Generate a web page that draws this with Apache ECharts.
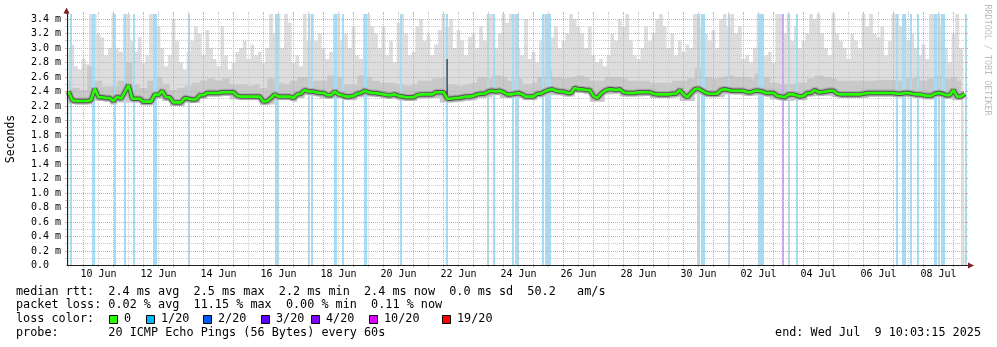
<!DOCTYPE html>
<html><head><meta charset="utf-8">
<script src="https://cdn.jsdelivr.net/npm/echarts@6/dist/echarts.min.js"></script>
<style>html,body{margin:0;padding:0;background:#fff}#c{width:997px;height:347px}</style>
</head><body><div id="c"></div>
<script>
// time unit: days since 10 Jun 00:00
const X_MIN = -0.55, X_MAX = 29.42;
const START = -0.5, STEP3H = 0.125, STEP6H = 0.25;

const medianRtt = [
2.40,2.28,2.27,2.27,2.27,2.27,2.28,2.44,2.32,2.32,
2.31,2.31,2.27,2.33,2.30,2.39,2.49,2.30,2.30,2.30,
2.26,2.26,2.26,2.36,2.35,2.41,2.32,2.32,2.25,2.25,
2.25,2.31,2.30,2.29,2.29,2.35,2.35,2.38,2.38,2.38,
2.38,2.39,2.39,2.39,2.39,2.34,2.33,2.33,2.33,2.33,
2.33,2.33,2.26,2.27,2.31,2.36,2.33,2.33,2.33,2.33,
2.31,2.36,2.37,2.42,2.40,2.40,2.39,2.38,2.38,2.35,
2.35,2.40,2.36,2.35,2.33,2.33,2.34,2.37,2.38,2.41,
2.39,2.38,2.38,2.37,2.36,2.35,2.35,2.36,2.34,2.33,
2.32,2.32,2.32,2.35,2.36,2.36,2.36,2.36,2.39,2.39,
2.39,2.30,2.30,2.31,2.31,2.32,2.33,2.33,2.34,2.36,
2.37,2.37,2.40,2.41,2.40,2.41,2.39,2.36,2.36,2.37,
2.38,2.36,2.33,2.33,2.33,2.37,2.37,2.40,2.42,2.43,
2.41,2.40,2.40,2.38,2.38,2.45,2.43,2.43,2.42,2.42,
2.34,2.31,2.37,2.41,2.43,2.43,2.42,2.43,2.39,2.38,
2.38,2.38,2.39,2.39,2.39,2.39,2.37,2.36,2.36,2.36,
2.36,2.37,2.37,2.42,2.36,2.32,2.38,2.43,2.44,2.41,
2.38,2.37,2.37,2.37,2.42,2.43,2.42,2.41,2.41,2.41,
2.41,2.39,2.39,2.41,2.41,2.40,2.38,2.38,2.38,2.34,
2.33,2.32,2.36,2.36,2.35,2.33,2.34,2.38,2.38,2.42,
2.39,2.39,2.40,2.41,2.41,2.37,2.36,2.36,2.36,2.36,
2.36,2.36,2.37,2.38,2.38,2.38,2.38,2.38,2.38,2.38,
2.38,2.37,2.37,2.38,2.38,2.37,2.36,2.36,2.35,2.34,
2.34,2.37,2.38,2.37,2.35,2.35,2.42,2.33,2.33,2.37];

const smokeMax = [
2.95,3.05,2.75,2.70,2.85,2.78,3.47,3.47,3.20,3.15,
2.90,3.00,3.47,3.00,2.95,3.47,3.47,3.10,2.95,3.15,
2.80,2.90,3.47,3.47,3.30,3.00,2.75,2.90,3.40,3.10,
2.80,2.70,2.95,3.10,3.30,3.20,2.90,3.25,3.00,2.85,
2.75,3.30,2.90,2.70,2.80,2.95,3.00,3.10,2.85,3.05,
2.90,2.95,2.80,3.00,3.47,3.20,3.47,3.00,3.47,3.35,
2.80,2.90,2.75,3.47,3.10,3.47,3.10,3.20,3.00,2.85,
2.95,3.47,3.47,3.10,3.20,3.00,3.30,2.90,2.85,3.47,
3.47,3.30,3.20,3.00,3.30,2.90,3.10,2.80,3.35,3.47,
3.20,2.90,2.95,3.30,3.40,3.10,3.20,2.90,3.05,3.25,
3.47,3.30,3.40,3.00,3.25,3.10,2.90,3.15,3.20,3.00,
3.30,3.10,3.47,3.47,3.00,3.20,3.47,3.35,3.47,3.47,
3.00,2.90,3.40,2.85,2.95,2.80,3.10,3.47,3.47,3.15,
3.30,3.00,3.10,3.20,3.47,3.40,3.30,3.20,3.00,3.30,
2.90,2.80,2.85,2.75,2.90,3.20,3.10,3.40,3.30,3.47,
3.10,2.90,2.85,3.00,3.30,3.10,3.20,3.40,3.47,3.30,
3.00,3.20,2.90,3.10,2.95,3.05,3.00,3.47,3.47,3.30,
3.20,3.10,3.25,3.00,3.40,3.47,3.30,3.47,3.20,3.30,
2.85,2.90,2.80,3.00,3.47,3.47,2.90,2.95,2.80,3.47,
3.47,3.20,3.47,3.10,3.30,3.00,3.10,3.20,3.47,3.40,
3.47,3.20,3.00,2.90,3.47,3.20,3.10,3.00,2.85,3.20,
3.10,3.00,3.47,3.30,3.47,3.20,3.15,3.30,2.90,3.10,
3.47,3.47,3.30,3.40,3.10,3.20,3.00,2.90,3.05,2.85,
3.47,3.47,3.47,3.30,3.00,2.80,3.20,3.47,3.00,3.47];

const smokeMid = [
2.55,2.45,2.42,2.75,2.55,2.47,2.48,2.55,2.80,2.50,
2.45,2.55,2.60,2.50,2.42,2.45,2.48,2.52,2.55,2.58,
2.55,2.58,2.50,2.50,2.48,2.50,2.45,2.58,2.52,2.50,
2.55,2.60,2.60,2.55,2.55,2.62,2.60,2.50,2.50,2.62,
2.60,2.55,2.52,2.52,2.50,2.48,2.50,2.55,2.55,2.58,
2.60,2.50,2.48,2.50,2.52,2.60,2.58,2.62,2.60,2.55,
2.58,2.50,2.52,2.60,2.68,2.60,2.58,2.60,2.62,2.60,
2.55,2.55,2.60,2.60,2.58,2.55,2.55,2.55,2.52,2.52,
2.52,2.55,2.55,2.58,2.72,2.60,2.58,2.60,2.62,2.60,
2.60,2.58,2.65,2.60,2.52,2.50,2.50,2.52,2.52,2.58,
2.62,2.60,2.58,2.55,2.55,2.55,2.55,2.55,2.56,2.56,
2.56,2.55,2.58,2.60,2.55,2.58,2.62,2.58,2.60,2.55];

const smokeMin = [
2.23,2.22,2.22,2.22,2.27,2.26,2.22,2.25,2.25,2.25,
2.21,2.21,2.30,2.27,2.20,2.20,2.24,2.24,2.30,2.33,
2.33,2.34,2.29,2.28,2.28,2.28,2.21,2.22,2.28,2.28,
2.26,2.31,2.35,2.33,2.30,2.30,2.30,2.28,2.28,2.32,
2.33,2.32,2.30,2.30,2.28,2.27,2.27,2.30,2.31,2.31,
2.25,2.25,2.26,2.27,2.28,2.31,2.32,2.35,2.31,2.31,
2.31,2.28,2.28,2.32,2.35,2.35,2.33,2.33,2.38,2.37,
2.26,2.26,2.36,2.37,2.33,2.33,2.33,2.34,2.31,2.31,
2.31,2.32,2.27,2.27,2.36,2.32,2.32,2.32,2.36,2.36,
2.34,2.34,2.35,2.33,2.29,2.27,2.27,2.28,2.28,2.33,
2.34,2.34,2.32,2.31,2.31,2.31,2.31,2.33,2.33,2.33,
2.32,2.32,2.32,2.31,2.29,2.29,2.32,2.30,2.28,2.28];

// loss events: [day, loss count out of 20]
const lossEvents = [
[-0.42,1],[0.30,1],[0.35,1],[1.05,1],[1.38,1],[1.68,1],[2.35,1],[2.40,1],[3.50,1],
[6.40,1],[6.47,1],[7.51,1],[7.63,1],[8.38,1],[8.43,1],[8.65,1],[9.37,1],[9.43,1],
[10.58,1],[12.13,1],[13.48,1],[13.67,1],[14.33,1],[14.42,1],[14.47,1],
[15.33,1],[15.40,1],[15.47,1],[15.55,1],[20.47,1],[20.53,1],[20.60,1],[20.67,1],
[21.53,1],[22.50,1],[22.57,1],[22.65,1],[23.33,3],[23.50,1],[23.77,1],
[27.10,1],[27.30,1],[27.37,1],[27.57,1],[27.80,1],
[28.37,1],[28.43,1],[28.52,1],[28.60,1],[28.67,1],[29.40,1]];

const blackSpike = [12.13, 2.36, 2.85];

const xLabelDays = [0.5,2.5,4.5,6.5,8.5,10.5,12.5,14.5,16.5,18.5,20.5,22.5,24.5,26.5,28.5];
const xLabels = ['10 Jun','12 Jun','14 Jun','16 Jun','18 Jun','20 Jun','22 Jun','24 Jun',
                 '26 Jun','28 Jun','30 Jun','02 Jul','04 Jul','06 Jul','08 Jul'];

const lossLegend = [['0','#26ff00'],['1/20','#00b8ff'],['2/20','#0059ff'],['3/20','#5e00ff'],
                    ['4/20','#7e00ff'],['10/20','#dd00ff'],['19/20','#ff0000']];
const lossBgColor = {1:'#a6dcf4', 3:'#c5a9f6'};
const lossLineColor = {1:'#00b8ff', 3:'#5e00ff'};

const legendLines = [
 'median rtt:  2.4 ms avg  2.5 ms max  2.2 ms min  2.4 ms now  0.0 ms sd  50.2   am/s',
 'packet loss: 0.02 % avg  11.15 % max  0.00 % min  0.11 % now',
 'loss color:',
 'probe:       20 ICMP Echo Pings (56 Bytes) every 60s'];
const endText = 'end: Wed Jul  9 10:03:15 2025';

// ---------------------------------------------------------------
const MONO = '"DejaVu Sans Mono", monospace';
const pts = (arr, step) => arr.map((v, i) => [START + i * step, v]);

const hGrid = [];
for (let k = 1; k <= 34; k++) hGrid.push([0, k / 10]);
const vGrid = [];
for (let k = -1; k <= 29; k++) {
  if (k >= 0) vGrid.push([k, 0]);
  if (k + 0.5 < X_MAX) vGrid.push([k + 0.5, 0]);
}
const MGRID = '#e9a0a0', GRID = '#cccccc';
const crisp = v => Math.round(v - 0.5) + 0.5;

function hGridItem(params, api) {
  const cs = params.coordSys;
  const v = api.value(1);
  const y = crisp(api.coord([0, v])[1]);
  const c = Math.round(v * 10) % 2 === 0 ? MGRID : GRID;
  return {type: 'group', children: [
    {type: 'line', shape: {x1: cs.x, y1: y, x2: cs.x + cs.width, y2: y}, style: {stroke: c, lineWidth: 1, lineDash: [1, 1]}},
    {type: 'line', shape: {x1: cs.x - 2, y1: y, x2: cs.x, y2: y}, style: {stroke: c, lineWidth: 1}},
    {type: 'line', shape: {x1: cs.x + cs.width, y1: y, x2: cs.x + cs.width + 2, y2: y}, style: {stroke: c, lineWidth: 1}}
  ]};
}
function vGridItem(params, api) {
  const cs = params.coordSys;
  const d = api.value(0);
  const x = crisp(api.coord([d, 0])[0]);
  const c = Math.abs(d - Math.round(d)) < 1e-6 ? MGRID : GRID;
  const b = cs.y + cs.height;
  return {type: 'group', children: [
    {type: 'line', shape: {x1: x, y1: cs.y, x2: x, y2: b}, style: {stroke: c, lineWidth: 1, lineDash: [1, 1]}},
    {type: 'line', shape: {x1: x, y1: b, x2: x, y2: b + 2}, style: {stroke: c, lineWidth: 1}},
    {type: 'line', shape: {x1: x, y1: cs.y - 2, x2: x, y2: cs.y}, style: {stroke: c, lineWidth: 1}}
  ]};
}
function lossItem(params, api) {
  const cs = params.coordSys;
  const x = api.coord([api.value(0), 0])[0];
  return {type: 'rect', shape: {x: Math.round(x) - 1, y: cs.y, width: 2, height: cs.height},
          style: {fill: lossBgColor[api.value(1)]}};
}
function spikeItem(params, api) {
  const p1 = api.coord([api.value(0), api.value(1)]);
  const p2 = api.coord([api.value(0), api.value(2)]);
  return {type: 'rect', shape: {x: Math.round(p1[0]) - 0.5, y: p2[1], width: 1.2, height: p1[1] - p2[1]},
          style: {fill: '#2a2a2a'}};
}

const area = (name, data, color, z) => ({
  name, type: 'line', data, step: 'middle', showSymbol: false, silent: true, z,
  lineStyle: {width: 0, color}, areaStyle: {color, opacity: 1}, animation: false
});
const medLine = (name, width, color, z) => ({
  name, type: 'line', data: pts(medianRtt, STEP3H), showSymbol: false, silent: true, z,
  lineStyle: {width, color}, animation: false
});

const pieces = lossEvents.map(e => ({gte: e[0] - 0.035, lt: e[0] + 0.035, color: lossLineColor[e[1]]}));

const graphic = [
  {type: 'line', shape: {x1: 66.5, y1: 14, x2: 66.5, y2: 9}, style: {stroke: '#1f1f1f', lineWidth: 1}, z: 30},
  {type: 'polygon', shape: {points: [[66.5, 7.5], [63.5, 13.5], [69.5, 13.5]]}, style: {fill: '#7f1f1f'}, z: 31},
  {type: 'line', shape: {x1: 966, y1: 265.5, x2: 970, y2: 265.5}, style: {stroke: '#1f1f1f', lineWidth: 1}, z: 30},
  {type: 'polygon', shape: {points: [[974, 265.5], [968, 262.5], [968, 268.5]]}, style: {fill: '#7f1f1f'}, z: 31},
  {type: 'text', x: 11, y: 139, rotation: Math.PI / 2,
   style: {text: 'Seconds', font: '11.5px ' + MONO, fill: '#000', align: 'center', verticalAlign: 'middle'}},
  {type: 'text', x: 987, y: 60, rotation: -Math.PI / 2,
   style: {text: 'RRDTOOL / TOBI OETIKER', font: '8.4px ' + MONO, fill: '#bdbdbd', align: 'center', verticalAlign: 'middle'}},
  {type: 'text', x: 981, y: 333, style: {text: endText, font: '11.8px ' + MONO, fill: '#000', align: 'right', verticalAlign: 'middle'}}
];
const lineY = [291.5, 305, 319, 333];
legendLines.forEach((t, i) => graphic.push({type: 'text', x: 16, y: lineY[i],
  style: {text: t, font: '11.8px ' + MONO, fill: '#000', align: 'left', verticalAlign: 'middle'}}));
const boxX = [109, 146, 203, 261, 311, 369, 442];
lossLegend.forEach((l, i) => {
  graphic.push({type: 'rect', shape: {x: boxX[i] + 0.5, y: 315.5, width: 8, height: 8},
    style: {fill: l[1], stroke: '#000', lineWidth: 1}});
  graphic.push({type: 'text', x: boxX[i] + 15, y: 319,
    style: {text: l[0], font: '11.8px ' + MONO, fill: '#000', align: 'left', verticalAlign: 'middle'}});
});

const chart = echarts.init(document.getElementById('c'));
chart.setOption({
  animation: false,
  backgroundColor: '#ffffff',
  grid: {left: 67, top: 13.925, width: 899.1, height: 251.575, containLabel: false},
  xAxis: {
    type: 'value', min: X_MIN, max: X_MAX, z: 20,
    axisLine: {show: true, onZero: false, lineStyle: {color: '#1f1f1f', width: 1}},
    axisTick: {show: false}, splitLine: {show: false},
    axisLabel: {customValues: xLabelDays, formatter: v => xLabels[xLabelDays.indexOf(v)] || '',
                fontFamily: MONO, fontSize: 10, color: '#000', margin: 4}
  },
  yAxis: {
    type: 'value', min: 0, max: 3.47, interval: 0.2, z: 20,
    axisLine: {show: true, onZero: false, lineStyle: {color: '#1f1f1f', width: 1}},
    axisTick: {show: false}, splitLine: {show: false},
    axisLabel: {showMaxLabel: false, formatter: v => v === 0 ? '0.0  ' : v.toFixed(1) + ' m',
                fontFamily: MONO, fontSize: 10, color: '#000', margin: 6}
  },
  visualMap: {type: 'piecewise', show: false, dimension: 0, seriesIndex: 9,
              pieces, outOfRange: {color: '#26ff00'}},
  graphic,
  series: [
    area('smokeMax', pts(smokeMax, STEP3H), '#dddddd', 1),
    area('smokeMid', pts(smokeMid, STEP6H), '#c8c8c8', 2),
    area('smokeMin', pts(smokeMin, STEP6H), '#ffffff', 3),
    {name: 'lossBg', type: 'custom', renderItem: lossItem, data: lossEvents, z: 4, silent: true, clip: true},
    {name: 'hGrid', type: 'custom', renderItem: hGridItem, data: hGrid, z: 5, silent: true},
    {name: 'vGrid', type: 'custom', renderItem: vGridItem, data: vGrid, z: 5, silent: true},
    medLine('halo1', 7, '#ababab', 6),
    medLine('halo2', 4.5, '#555555', 7),
    {name: 'spike', type: 'custom', renderItem: spikeItem, data: [blackSpike], z: 8, silent: true},
    medLine('median', 2.6, '#26ff00', 9)
  ]
});
</script></body></html>
